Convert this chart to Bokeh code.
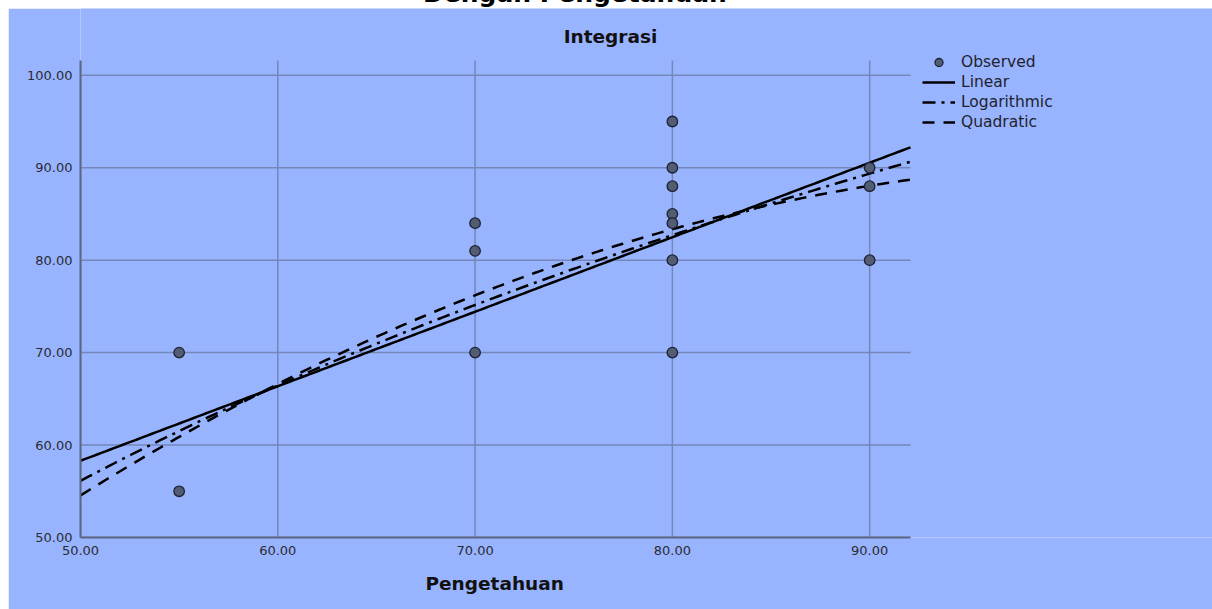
import numpy as np
from bokeh.plotting import figure
from bokeh.models import (Range1d, Legend, LegendItem, FixedTicker,
                          NumeralTickFormatter, Div, Title, Label)
from bokeh.layouts import column
from bokeh.embed import file_html
from bokeh.resources import INLINE

# ---------------- data ----------------
pengetahuan = [55, 55, 70, 70, 70, 80, 80, 80, 80, 80, 80, 80, 90, 90, 90]
integrasi = [70, 55, 84, 81, 70, 95, 90, 88, 85, 84, 80, 70, 90, 88, 80]

# fitted model coefficients
linear_coef = [18.0, 0.806]                    # a + b*x
log_coef = [-165.1, 56.55]                     # a + b*ln(x)
quad_coef = [-42.47, 2.5532, -0.012256]        # a + b*x + c*x^2

x_ticks = [50, 60, 70, 80, 90]
y_ticks = [50, 60, 70, 80, 90, 100]
x_limits = [50, 92.07]
y_limits = [50, 101.6]

chart_title = "Integrasi"
page_title = "Dengan Pengetahuan"
x_label = "Pengetahuan"
series_names = ["Observed", "Linear", "Logarithmic", "Quadratic"]

# ---------------- style / layout ----------------
BG = "#99b4ff"
GRID = "#7487b8"
AXIS = "#5d6680"
FONT = "DejaVu Sans"

FIG_W, FIG_H = 1204, 601
LEFT, BOTTOM = 72, 72
PLOT_W, PLOT_H = 830, 477          # drawn plot area (px)
PLOT_TOP = 52                      # distance of drawn plot area from figure top
frame_w = FIG_W - LEFT             # frame also covers the legend / title area
px_x = PLOT_W / (x_limits[1] - x_limits[0])
px_y = PLOT_H / (y_limits[1] - y_limits[0])
x_view_end = x_limits[0] + frame_w / px_x
y_view_end = y_limits[1] + PLOT_TOP / px_y

p = figure(width=FIG_W, height=FIG_H, output_backend="svg", toolbar_location=None,
           x_range=Range1d(x_limits[0], x_view_end),
           y_range=Range1d(y_limits[0], y_view_end),
           min_border_left=LEFT, min_border_right=0, min_border_top=0,
           min_border_bottom=BOTTOM, margin=(0, 0, 0, 8))
p.background_fill_color = BG
p.border_fill_color = BG
p.outline_line_color = None

for ax, ticks in ((p.xaxis, x_ticks), (p.yaxis, y_ticks)):
    ax.ticker = FixedTicker(ticks=ticks)
    ax.formatter = NumeralTickFormatter(format="0.00")
    ax.major_tick_line_color = None
    ax.minor_tick_line_color = None
    ax.major_tick_out = 0
    ax.major_tick_in = 0
    ax.axis_line_color = AXIS
    ax.axis_line_width = 2
    ax.major_label_text_font = FONT
    ax.major_label_text_font_size = "13px"
    ax.major_label_text_color = "#2b2b33"
    ax.major_label_standoff = 8
p.xaxis.bounds = (x_limits[0], x_limits[1])
p.yaxis.bounds = (y_limits[0], y_limits[1])

p.add_layout(Title(text=x_label, align="left", offset=345, standoff=26,
                   vertical_align="bottom", text_font=FONT, text_font_style="bold",
                   text_font_size="18.5px", text_color="#111111"), "below")

# grid (limited to the plot area)
p.xgrid.grid_line_color = None
p.ygrid.grid_line_color = None
p.segment(x0=x_ticks, x1=x_ticks, y0=[y_limits[0]] * len(x_ticks),
          y1=[y_limits[1]] * len(x_ticks), line_color=GRID, line_width=1.5)
p.segment(x0=[x_limits[0]] * len(y_ticks), x1=[x_limits[1]] * len(y_ticks),
          y0=y_ticks, y1=y_ticks, line_color=GRID, line_width=1.5)

# fitted curves
xs = np.linspace(x_limits[0], x_limits[1], 200)
y_lin = linear_coef[0] + linear_coef[1] * xs
y_log = log_coef[0] + log_coef[1] * np.log(xs)
y_quad = quad_coef[0] + quad_coef[1] * xs + quad_coef[2] * xs ** 2

r_lin = p.line(xs, y_lin, line_color="black", line_width=2.5)
r_log = p.line(xs, y_log, line_color="black", line_width=2.5, line_dash="13 6 3 6")
r_quad = p.line(xs, y_quad, line_color="black", line_width=2.5, line_dash="12 9")

r_obs = p.scatter(pengetahuan, integrasi, marker="circle", size=10.5,
                  fill_color="#525c74", line_color="#1e2230", line_width=1.3)

legend = Legend(items=[
    LegendItem(label=series_names[0], renderers=[r_obs]),
    LegendItem(label=series_names[1], renderers=[r_lin]),
    LegendItem(label=series_names[2], renderers=[r_log]),
    LegendItem(label=series_names[3], renderers=[r_quad]),
], location=(PLOT_W + 12, 405), padding=0, spacing=0, margin=0,
    glyph_width=33, glyph_height=20, label_height=20, label_standoff=6,
    background_fill_alpha=0, border_line_color=None,
    label_text_font=FONT, label_text_font_size="15.5px", label_text_color="#22222e")
p.add_layout(legend)

# chart title, centred over the whole figure, above the plot area
title = Label(x=x_limits[0] + (FIG_W / 2 - LEFT) / px_x,
              y=y_limits[1] + 24 / px_y, text=chart_title,
              text_align="center", text_baseline="alphabetic", text_font=FONT,
              text_font_style="bold", text_font_size="18.5px", text_color="#111111")
p.add_layout(title)

header = Div(
    text=('<div style="position:relative; top:-21px; text-align:center; '
          'width:1150px; font-family:\'DejaVu Sans\'; font-weight:bold; '
          'font-size:25px; line-height:30px; color:#000; white-space:nowrap;">'
          + page_title + '</div>'),
    width=1212, height=8, margin=(0, 0, 0, 0))

layout = column(header, p, spacing=0)
open("out.html", "w").write(file_html(layout, INLINE))
